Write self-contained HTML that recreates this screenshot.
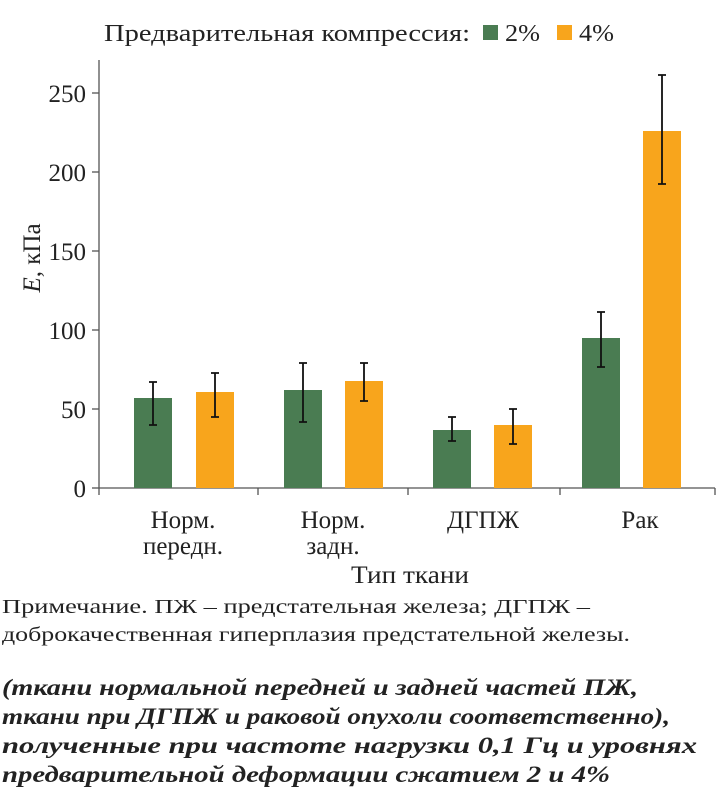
<!DOCTYPE html><html><head><meta charset="utf-8"><style>body{margin:0;background:#fff}svg{display:block;font-family:"Liberation Serif",serif}</style></head><body>
<svg width="725" height="800" viewBox="0 0 725 800">
<text x="104" y="41" font-size="24" fill="#222" textLength="366" lengthAdjust="spacingAndGlyphs">Предварительная компрессия:</text>
<rect x="483" y="25" width="15" height="15" fill="#4a7c52"/><text x="505" y="41" font-size="24" fill="#222" textLength="35" lengthAdjust="spacingAndGlyphs">2%</text>
<rect x="557" y="25" width="15" height="15" fill="#f8a51c"/><text x="579" y="41" font-size="24" fill="#222" textLength="35" lengthAdjust="spacingAndGlyphs">4%</text>
<g stroke="#555" stroke-width="1.3">
<line x1="99" y1="60" x2="99" y2="495"/><line x1="99" y1="488" x2="715" y2="488"/>
<line x1="92" y1="488" x2="99" y2="488"/><line x1="92" y1="409" x2="99" y2="409"/><line x1="92" y1="330" x2="99" y2="330"/><line x1="92" y1="251" x2="99" y2="251"/><line x1="92" y1="172" x2="99" y2="172"/><line x1="92" y1="93" x2="99" y2="93"/>
<line x1="258" y1="488" x2="258" y2="495"/><line x1="408" y1="488" x2="408" y2="495"/><line x1="560" y1="488" x2="560" y2="495"/><line x1="715" y1="488" x2="715" y2="495"/>
</g>
<g font-size="25" fill="#222" text-anchor="end">
<text x="86" y="497">0</text><text x="86" y="418">50</text><text x="86" y="339">100</text><text x="86" y="260">150</text><text x="86" y="181">200</text><text x="86" y="102">250</text></g>
<text transform="translate(40,258) rotate(-90)" font-size="25" fill="#222" text-anchor="middle"><tspan font-style="italic">E</tspan>, кПа</text>
<g fill="#4a7c52"><rect x="134" y="398" width="38" height="90"/><rect x="284" y="390" width="38" height="98"/><rect x="433" y="430" width="38" height="58"/><rect x="582" y="338" width="38" height="150"/></g>
<g fill="#f8a51c"><rect x="196" y="392" width="38" height="96"/><rect x="345" y="381" width="38" height="107"/><rect x="494" y="425" width="38" height="63"/><rect x="643" y="131" width="38" height="357"/></g>
<g stroke="#111" stroke-width="1.8">
<path d="M153 382V425M149 382h8M149 425h8"/>
<path d="M215 373V417M211 373h8M211 417h8"/>
<path d="M303 363V422M299 363h8M299 422h8"/>
<path d="M364 363V401M360 363h8M360 401h8"/>
<path d="M452 417V441M448 417h8M448 441h8"/>
<path d="M513 409V444M509 409h8M509 444h8"/>
<path d="M601 312V367M597 312h8M597 367h8"/>
<path d="M662 75V184M658 75h8M658 184h8"/>
</g>
<g font-size="25" fill="#222" text-anchor="middle">
<text x="183" y="528">Норм.</text><text x="183" y="554">передн.</text>
<text x="333" y="528">Норм.</text><text x="333" y="554">задн.</text>
<text x="483" y="528">ДГПЖ</text><text x="640" y="528">Рак</text>
<text x="410" y="583" textLength="118" lengthAdjust="spacingAndGlyphs">Тип ткани</text></g>
<text x="2" y="613" font-size="20" fill="#222" textLength="588" lengthAdjust="spacingAndGlyphs">Примечание. ПЖ – предстательная железа; ДГПЖ –</text>
<text x="2" y="641" font-size="20" fill="#222" textLength="628" lengthAdjust="spacingAndGlyphs">доброкачественная гиперплазия предстательной железы.</text>
<g font-size="23" font-weight="bold" font-style="italic" fill="#222">
<text x="2" y="695" textLength="636" lengthAdjust="spacingAndGlyphs">(ткани нормальной передней и задней частей ПЖ,</text>
<text x="2" y="724" textLength="668" lengthAdjust="spacingAndGlyphs">ткани при ДГПЖ и раковой опухоли соответственно),</text>
<text x="2" y="753" textLength="695" lengthAdjust="spacingAndGlyphs">полученные при частоте нагрузки 0,1 Гц и уровнях</text>
<text x="2" y="782" textLength="608" lengthAdjust="spacingAndGlyphs">предварительной деформации сжатием 2 и 4%</text></g>
</svg></body></html>
